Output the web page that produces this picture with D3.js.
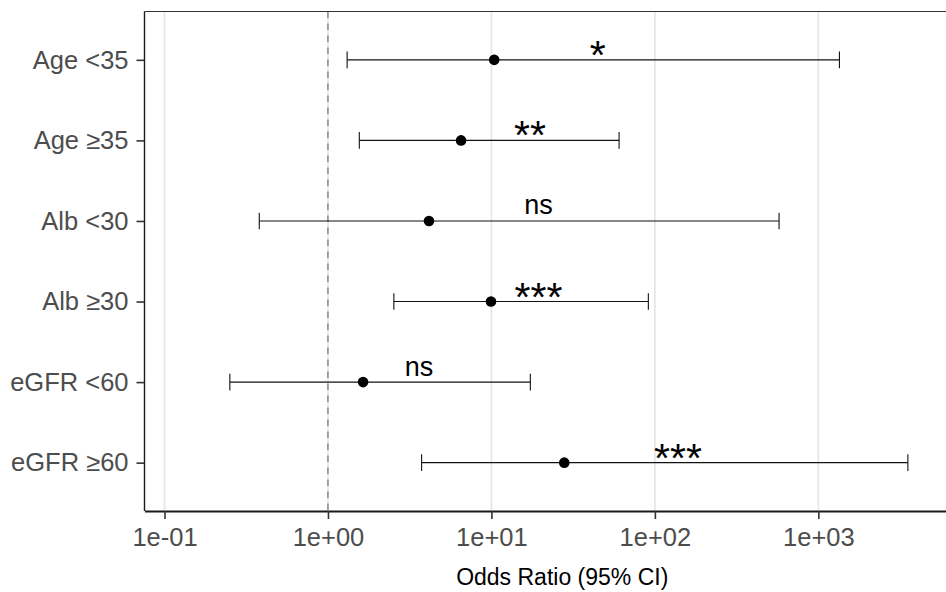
<!DOCTYPE html>
<html>
<head>
<meta charset="utf-8">
<script src="https://cdn.jsdelivr.net/npm/d3@7"></script>
<style>
    body { margin: 0; background: #fff; }
    text { font-family: "Liberation Sans", Arial, sans-serif; }
</style>
</head>
<body>
<div id="forest"></div>
<script>
var groups = ["Age <35", "Age \u226535", "Alb <30", "Alb \u226530", "eGFR <60", "eGFR \u226560"];
var oddsRatio = [10.4, 6.52, 4.15, 9.94, 1.64, 27.9];
var ciLower = [1.31, 1.555, 0.38, 2.53, 0.251, 3.74];
var ciUpper = [1346, 60.4, 575, 91.2, 17.3, 3530];
var sigLabels = ["*", "**", "ns", "***", "ns", "***"];
var labelAt = [44.7, 17.2, 19.4, 19.4, 3.61, 138.5];
var xTicks = [0.1, 1, 10, 100, 1000];
var xTickLabels = ["1e-01", "1e+00", "1e+01", "1e+02", "1e+03"];

function drawForest(divName) {
    var data = groups.map(function (g, i) {
        return {group: g, or: oddsRatio[i], lo: ciLower[i], hi: ciUpper[i], sig: sigLabels[i], lx: labelAt[i]};
    });

    var W = 946, H = 592;
    var margin = {top: 11.5, left: 144.5, bottom: 81};
    var right = 980;   // panel runs past the picture edge
    var bottom = H - margin.bottom;

    var x = d3.scaleLog()
        .domain([Math.pow(10, -1.1224), Math.pow(10, 3.989)])
        .range([margin.left, right]);

    var y = d3.scalePoint()
        .domain(groups)
        .range([margin.top, bottom])
        .padding(0.6);

    var svg = d3.select('#' + divName)
        .append('svg')
        .attr('width', W)
        .attr('height', H);

    // grid
    svg.append("g").selectAll("line")
        .data(xTicks)
        .enter().append("line")
        .attr("x1", function (d) { return x(d); })
        .attr("x2", function (d) { return x(d); })
        .attr("y1", margin.top)
        .attr("y2", bottom)
        .style("stroke", "#e6e6e6")
        .style("stroke-width", 1.7);

    svg.append("line")
        .attr("x1", x(1)).attr("x2", x(1))
        .attr("y1", margin.top).attr("y2", bottom)
        .style("stroke", "#5a5a5a")
        .style("stroke-width", 1)
        .style("stroke-dasharray", "6.5,5.5");

    // panel lines
    svg.append("line")
        .attr("x1", margin.left).attr("x2", right)
        .attr("y1", margin.top).attr("y2", margin.top)
        .style("stroke", "#333").style("stroke-width", 1.1);
    svg.append("line")
        .attr("x1", margin.left).attr("x2", margin.left)
        .attr("y1", margin.top).attr("y2", bottom)
        .style("stroke", "#1a1a1a").style("stroke-width", 1.4);

    var xAxis = svg.append("g")
        .attr("transform", "translate(0," + bottom + ")")
        .call(d3.axisBottom(x)
            .tickValues(xTicks)
            .tickFormat(function (d, i) { return xTickLabels[i]; })
            .tickSize(8)
            .tickPadding(9)
            .tickSizeOuter(0));
    xAxis.select(".domain").style("stroke", "#1a1a1a").style("stroke-width", 2);
    xAxis.selectAll(".tick line").style("stroke", "#333").style("stroke-width", 1.6);
    xAxis.selectAll(".tick text")
        .style("font-size", "25.5px")
        .style("fill", "#4d4d4d")
        .style("font-family", "Liberation Sans, Arial, sans-serif");

    var yAxis = svg.append("g")
        .attr("transform", "translate(" + margin.left + ",0)")
        .call(d3.axisLeft(y).tickSize(8).tickPadding(8).tickSizeOuter(0));
    yAxis.select(".domain").remove();
    yAxis.selectAll(".tick line").style("stroke", "#333").style("stroke-width", 1.6);
    yAxis.selectAll(".tick text")
        .style("font-size", "25.5px")
        .style("fill", "#4d4d4d")
        .style("font-family", "Liberation Sans, Arial, sans-serif");

    svg.append("text")
        .attr("x", (margin.left + right) / 2)
        .attr("y", 585)
        .attr("text-anchor", "middle")
        .style("font-size", "23px")
        .style("fill", "#000")
        .text("Odds Ratio (95% CI)");

    var g = svg.append("g");
    var cap = 8.3;

    g.selectAll(".ci")
        .data(data).enter().append("line")
        .attr("x1", function (d) { return x(d.lo); })
        .attr("x2", function (d) { return x(d.hi); })
        .attr("y1", function (d) { return y(d.group); })
        .attr("y2", function (d) { return y(d.group); })
        .style("stroke", "#111").style("stroke-width", 1.1);

    ["lo", "hi"].forEach(function (k) {
        g.selectAll(".cap-" + k)
            .data(data).enter().append("line")
            .attr("x1", function (d) { return x(d[k]); })
            .attr("x2", function (d) { return x(d[k]); })
            .attr("y1", function (d) { return y(d.group) - cap; })
            .attr("y2", function (d) { return y(d.group) + cap; })
            .style("stroke", "#111").style("stroke-width", 1.1);
    });

    g.selectAll("circle")
        .data(data).enter().append("circle")
        .attr("cx", function (d) { return x(d.or); })
        .attr("cy", function (d) { return y(d.group); })
        .attr("r", 5.3)
        .style("fill", "#000");

    // labels sit with their ink bottom just above the bar
    g.selectAll(".sig")
        .data(data).enter().append("text")
        .attr("x", function (d) { return x(d.lx); })
        .attr("y", function (d) {
            return d.sig === "ns" ? y(d.group) - 6.5 : y(d.group) + 9;
        })
        .attr("text-anchor", "middle")
        .style("font-size", function (d) { return d.sig === "ns" ? "27px" : "41px"; })
        .style("fill", "#000")
        .text(function (d) { return d.sig; });
}

drawForest("forest");
</script>
</body>
</html>
